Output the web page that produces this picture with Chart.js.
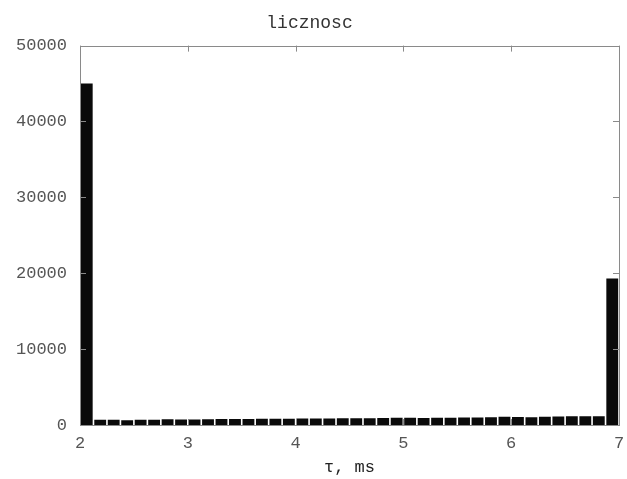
<!DOCTYPE html>
<html>
<head>
<meta charset="utf-8">
<script src="https://cdn.jsdelivr.net/npm/chart.js"></script>
<style>
  html, body { margin: 0; padding: 0; background: #fff; }
  #wrap { width: 627px; height: 479px; }
</style>
</head>
<body>
<div id="wrap"><canvas id="hist" width="627" height="479"></canvas></div>
<script>
// Histogram data (bin centers in ms, counts)
const binStart = 2;
const binWidth = 0.125;
const binCenters = [
  2.0625, 2.1875, 2.3125, 2.4375, 2.5625, 2.6875, 2.8125, 2.9375,
  3.0625, 3.1875, 3.3125, 3.4375, 3.5625, 3.6875, 3.8125, 3.9375,
  4.0625, 4.1875, 4.3125, 4.4375, 4.5625, 4.6875, 4.8125, 4.9375,
  5.0625, 5.1875, 5.3125, 5.4375, 5.5625, 5.6875, 5.8125, 5.9375,
  6.0625, 6.1875, 6.3125, 6.4375, 6.5625, 6.6875, 6.8125, 6.9375
];
const counts = [
  45000, 700, 680, 640, 690, 700, 760, 740,
  720, 760, 780, 790, 800, 820, 820, 830,
  850, 870, 860, 880, 890, 900, 920, 940,
  960, 930, 950, 970, 980, 990, 1010, 1080,
  1060, 1030, 1100, 1120, 1140, 1150, 1140, 19300
];
const xTicks = [2, 3, 4, 5, 6, 7];
const yTicks = [0, 10000, 20000, 30000, 40000, 50000];

const monoFont = "'Liberation Mono', 'DejaVu Sans Mono', monospace";

// Ramka i krotkie kreski skierowane do srodka, jak w gnuplocie
const frameTicks = {
  id: 'frameTicks',
  afterDatasetsDraw(chart) {
    const { ctx, chartArea: a, scales } = chart;
    const len = 6;
    ctx.save();
    ctx.strokeStyle = '#8a8a8a';
    ctx.lineWidth = 1;
    ctx.beginPath();
    xTicks.forEach(v => {
      const px = Math.round(scales.x.getPixelForValue(v)) + 0.5;
      ctx.moveTo(px, a.bottom); ctx.lineTo(px, a.bottom - len);
      ctx.moveTo(px, a.top); ctx.lineTo(px, a.top + len);
    });
    yTicks.forEach(v => {
      const py = Math.round(scales.y.getPixelForValue(v)) + 0.5;
      ctx.moveTo(a.left, py); ctx.lineTo(a.left + len, py);
      ctx.moveTo(a.right, py); ctx.lineTo(a.right - len, py);
    });
    ctx.stroke();
    ctx.strokeRect(Math.round(a.left) + 0.5, Math.round(a.top) + 0.5,
                   Math.round(a.right - a.left), Math.round(a.bottom - a.top));
    ctx.restore();
  }
};

new Chart(document.getElementById('hist'), {
  type: 'bar',
  data: {
    datasets: [{
      data: binCenters.map((x, i) => ({ x: x, y: counts[i] })),
      backgroundColor: '#0a0a0a',
      borderWidth: 0,
      barPercentage: 0.88,
      categoryPercentage: 1.0
    }]
  },
  options: {
    responsive: false,
    animation: false,
    layout: { padding: { left: 0, right: 8, top: 0, bottom: 0 } },
    plugins: {
      legend: { display: false },
      tooltip: { enabled: false },
      title: {
        display: true,
        text: 'licznosc',
        color: '#333',
        font: { family: monoFont, size: 18, weight: 'normal' },
        padding: { top: 12, bottom: 12 }
      }
    },
    scales: {
      x: {
        type: 'linear',
        min: 2,
        max: 7,
        offset: false,
        grid: { display: false, offset: false, drawTicks: false },
        border: { display: false },
        afterFit(scale) {
          scale.height = 54;
          scale.paddingLeft = 0;
          scale.paddingRight = 0;
        },
        afterBuildTicks(scale) { scale.ticks = xTicks.map(v => ({ value: v })); },
        ticks: {
          padding: 8,
          color: '#555',
          maxRotation: 0,
          font: { family: monoFont, size: 17 },
          callback: v => String(v)
        },
        title: {
          display: true,
          text: 'τ, ms',
          color: '#222',
          font: { family: monoFont, size: 17 },
          padding: { top: 0, bottom: 1 }
        }
      },
      y: {
        min: 0,
        max: 50000,
        grid: { display: false, drawTicks: false },
        border: { display: false },
        afterFit(scale) {
          scale.width = 80;
          scale.paddingTop = 0;
          scale.paddingBottom = 0;
        },
        afterBuildTicks(scale) { scale.ticks = yTicks.map(v => ({ value: v })); },
        ticks: {
          padding: 13,
          color: '#555',
          font: { family: monoFont, size: 17 },
          callback: v => String(v)
        }
      }
    }
  },
  plugins: [frameTicks]
});
</script>
</body>
</html>
